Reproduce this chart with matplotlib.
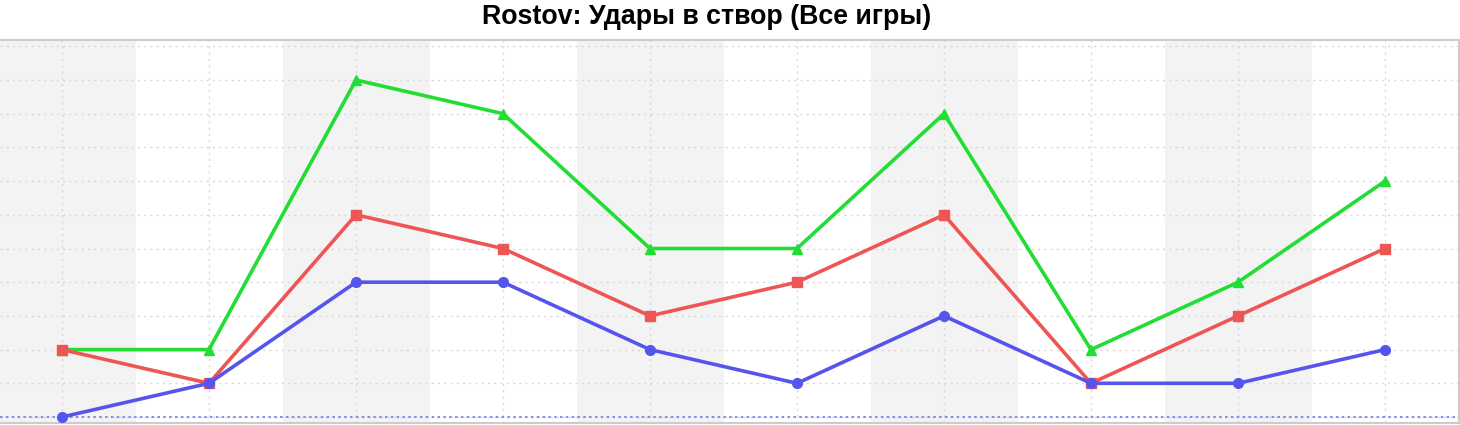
import matplotlib.pyplot as plt
import numpy as np

# Shots on target per game
games = list(range(10))
blue_vals = [0, 1, 4, 4, 2, 1, 3, 1, 1, 2]
red_vals = [2, 1, 6, 5, 3, 4, 6, 1, 3, 5]
green_vals = [2, 2, 10, 9, 5, 5, 9, 2, 4, 7]

fig = plt.figure(figsize=(14.6, 4.25), dpi=100)
ax = fig.add_axes([0.0, 2 / 425, 1459 / 1460, 383 / 425])

# alternating background bands
for i in games:
    if i % 2 == 0:
        ax.axvspan(i - 0.5, i + 0.5, color='#f3f3f3', zorder=0, lw=0)

ax.set_xticks(games)
ax.set_yticks(range(0, 12))
ax.grid(True, color='#d8d8d8', linestyle=(0, (1.5, 3)), linewidth=1, zorder=1)
ax.tick_params(left=False, bottom=False, labelleft=False, labelbottom=False)

ax.axhline(0, color='#7777ee', linestyle=(0, (1.5, 2)), linewidth=1.2, zorder=2)

ax.plot(games, green_vals, color='#22dd33', lw=2.6, marker='^', ms=7, zorder=3)
ax.plot(games, red_vals, color='#ee5555', lw=2.6, marker='s', ms=6.5, zorder=4)
ax.plot(games, blue_vals, color='#5555ee', lw=2.6, marker='o', ms=7, zorder=5)

ax.set_xlim(-62 / 147, 1397 / 147)
ax.set_ylim(-6 / 33.7, 377 / 33.7)

for side in ['left', 'top', 'right', 'bottom']:
    ax.spines[side].set_color('#cccccc')
    ax.spines[side].set_linewidth(1.5)
ax.spines['left'].set_visible(False)

fig.text(707 / 1460, 1 - 17 / 425, 'Rostov: Удары в створ (Все игры)', ha='center', va='center',
         fontsize=19.3, fontweight='bold', family='Liberation Sans')

fig.savefig('out.png', dpi=100)
